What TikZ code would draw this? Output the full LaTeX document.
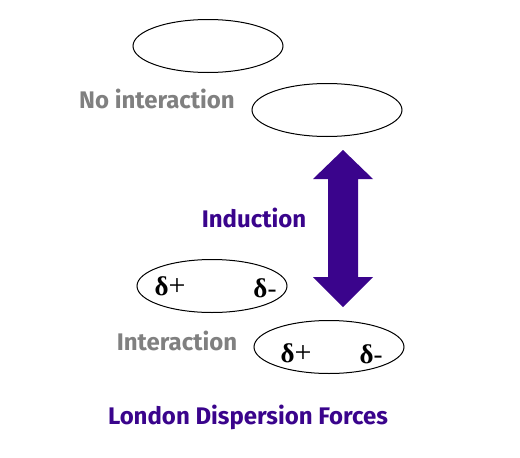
\documentclass[tikz,border=0pt]{standalone}
\usepackage{fontspec}
\setsansfont{Fira Sans}
\newfontfamily\deltafont{Liberation Serif}
\definecolor{ldpurple}{RGB}{58,4,140}
\definecolor{ldgray}{RGB}{128,128,128}
\usetikzlibrary{positioning,shapes.geometric}

\begin{document}
\begin{tikzpicture}[x=1pt, y=-1pt,
    molecule/.style={ellipse, draw=black, line width=1pt, minimum width=150pt, minimum height=53pt, inner sep=0pt},
    label/.style={font=\sffamily\bfseries\fontsize{24}{28}\selectfont},
    charge/.style={font=\deltafont\fontsize{27}{30}\selectfont}
  ]
    \useasboundingbox (0,0) rectangle (520,458);

    % Molecules without interaction
    \node[molecule] (m1) at (208,46) {};
    \node[molecule] (m2) at (327,110) {};
    \node[label, text=ldgray] (noint) at (157,99) {No interaction};

    % Induction arrow
    \fill[ldpurple] (343,150) -- (373,179) -- (358,179) -- (358,277) -- (373,277)
        -- (343,307) -- (313,277) -- (328,277) -- (328,179) -- (313,179) -- cycle;
    \node[label, text=ldpurple] (induct) at (254,218) {Induction};

    % Molecules with induced dipoles
    \node[molecule] (m3) at (212,286) {};
    \node[charge] (p3) at (170,286) {{\bfseries δ}{\fontsize{30}{30}\selectfont+}};
    \node[charge] (n3) at (265,288) {{\bfseries δ}-};
    \node[molecule] (m4) at (329,347) {};
    \node[charge] (p4) at (296,353) {{\bfseries δ}{\fontsize{30}{30}\selectfont+}};
    \node[charge] (n4) at (371,354) {{\bfseries δ}-};
    \node[label, text=ldgray] (inter) at (177,341) {Interaction};

    % Title
    \node[label, text=ldpurple] (title) at (248,417) {London Dispersion Forces};
\end{tikzpicture}
\end{document}
